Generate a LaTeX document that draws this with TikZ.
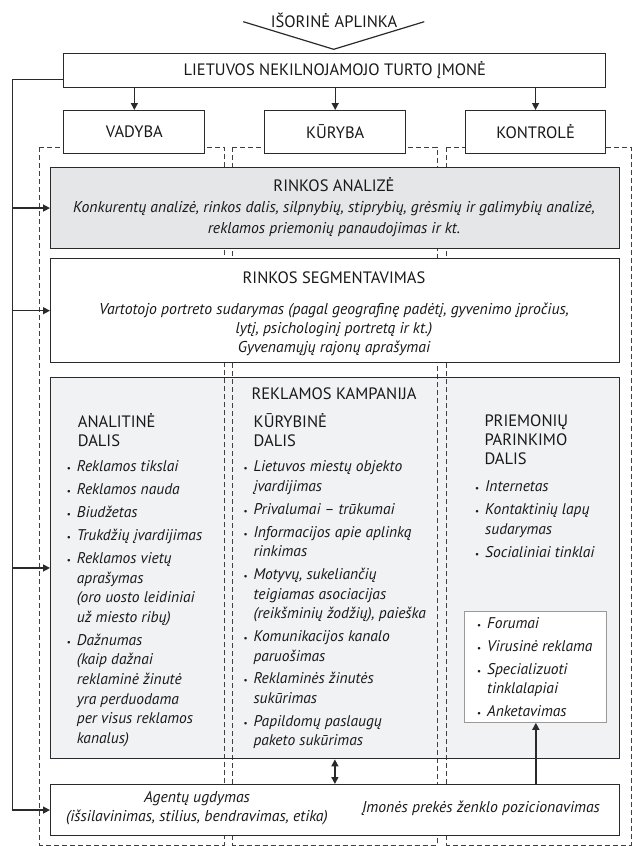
\documentclass[tikz,border=0pt]{standalone}
\usepackage{fontspec}
\setmainfont{PT Sans}
\usetikzlibrary{arrows.meta,calc}
\definecolor{lineclr}{HTML}{2A2A2A}
\definecolor{dashclr}{HTML}{404040}
\definecolor{rafill}{HTML}{E5E6E7}
\definecolor{kamfill}{HTML}{F1F2F3}
\definecolor{innclr}{HTML}{9A9A9A}
\newcommand{\bul}{\makebox[10pt][l]{\fontsize{9}{9}\selectfont\upshape\textbullet}}
\newcommand{\ind}{\hspace*{10pt}}
\begin{document}
\begin{tikzpicture}[x=1pt,y=-1pt,
  box/.style={draw=lineclr, line width=1.1pt, fill=white, inner sep=0pt, anchor=north west},
  dcol/.style={draw=dashclr, line width=0.9pt, dash pattern=on 5pt off 3pt},
  arr/.style={line width=1.4pt, draw=lineclr, -{Triangle[length=7pt,width=7pt]}},
  plainline/.style={line width=1.4pt, draw=lineclr},
  captext/.style={font=\fontsize{16.5}{19}\selectfont, text=black!90, inner sep=0pt, align=center},
  ittext/.style={font=\fontsize{15.7}{21}\selectfont\itshape, text=black!90, inner sep=0pt, align=center},
  lst/.style={font=\fontsize{15.5}{19.6}\selectfont\itshape, text=black!90, align=left, anchor=north west, inner sep=0pt},
  headtext/.style={font=\fontsize{16.5}{19}\selectfont, text=black!90, align=left, anchor=north west, inner sep=0pt},
]
\useasboundingbox (0,0) rectangle (634,846);

% campaign fill below the dashed columns
\fill[kamfill] (50,376.5) rectangle (618.7,758.3);

% dashed columns
\draw[dcol] (39.3,147.3) rectangle (224,845);
\draw[dcol] (232.3,147.3) rectangle (437,845);
\draw[dcol] (446.3,147.3) rectangle (631,845);

% outer environment
\node[captext] (iso) at (334,20) {IŠORINĖ APLINKA};
\coordinate (chl) at (243.3,21.7);
\coordinate (chm) at (333.7,49.3);
\coordinate (chr) at (424.3,21.7);
\draw[line width=1.2pt, draw=lineclr] (chl) -- (chm) -- (chr);

% boxes
\node[box, minimum width=542pt, minimum height=34.6pt] (top) at (63.3,52.7) {};
\node[captext] at (top.center) {LIETUVOS NEKILNOJAMOJO TURTO ĮMONĖ};
\node[box, minimum width=141pt, minimum height=42.7pt] (vad) at (63.3,110) {};
\node[captext] at (vad.center) {VADYBA};
\node[box, minimum width=141.3pt, minimum height=42.7pt] (kur) at (264,110) {};
\node[captext] at (kur.center) {KŪRYBA};
\node[box, minimum width=140.6pt, minimum height=42.7pt] (kon) at (464.7,110) {};
\node[captext] at (kon.center) {KONTROLĖ};

\node[box, fill=rafill, minimum width=568.7pt, minimum height=81.6pt] (ra) at (50,166.7) {};
\node[captext] at (334,185) {RINKOS ANALIZĖ};
\node[ittext] at (334,218.8) {Konkurentų analizė, rinkos dalis, silpnybių, stiprybių, grėsmių ir galimybių analizė,\\reklamos priemonių panaudojimas ir kt.};

\node[box, minimum width=568.7pt, minimum height=103.7pt] (seg) at (50,258.3) {};
\node[captext] at (334,277.3) {RINKOS SEGMENTAVIMAS};
\node[ittext, font=\fontsize{15.7}{18.7}\selectfont\itshape] at (334,329.5) {Vartotojo portreto sudarymas (pagal geografinę padėtį, gyvenimo įpročius,\\lytį, psichologinį portretą ir kt.)\\Gyvenamųjų rajonų aprašymai};

\node[box, fill=none, minimum width=568.7pt, minimum height=381.8pt] (kam) at (50,376.5) {};
\node[captext] at (334,393.3) {REKLAMOS KAMPANIJA};

\node[headtext] at (77.7,412.9) {\strut ANALITINĖ\\DALIS};
\node[headtext] at (253.5,412.9) {\strut KŪRYBINĖ\\DALIS};
\node[headtext] at (484.3,412.9) {\strut PRIEMONIŲ\\PARINKIMO\\DALIS};

\node[lst] at (66.7,457.5) {\strut\bul Reklamos tikslai\\[3.4pt]
\bul Reklamos nauda\\[3.4pt]
\bul Biudžetas\\[3.4pt]
\bul Trukdžių įvardijimas\\[3.4pt]
\bul Reklamos vietų\\
\ind aprašymas\\
\ind (oro uosto leidiniai\\
\ind už miesto ribų)\\[3.4pt]
\bul Dažnumas\\
\ind (kaip dažnai\\
\ind reklaminė žinutė\\
\ind yra perduodama\\
\ind per visus reklamos\\
\ind kanalus)};

\node[lst] at (243.3,458) {\strut\bul Lietuvos miestų objekto\\
\ind įvardijimas\\[3.2pt]
\bul Privalumai – trūkumai\\[3.2pt]
\bul Informacijos apie aplinką\\
\ind rinkimas\\[3.2pt]
\bul Motyvų, sukeliančių\\
\ind teigiamas asociacijas\\
\ind (reikšminių žodžių), paieška\\[3.2pt]
\bul Komunikacijos kanalo\\
\ind paruošimas\\[3.2pt]
\bul Reklaminės žinutės\\
\ind sukūrimas\\[3.2pt]
\bul Papildomų paslaugų\\
\ind paketo sukūrimas};

\node[lst] at (475,478) {\strut\bul Internetas\\[3.2pt]
\bul Kontaktinių lapų\\
\ind sudarymas\\[3.2pt]
\bul Socialiniai tinklai};

\node[box, draw=innclr, minimum width=142pt, minimum height=111pt] (inn) at (464.3,610.7) {};
\node[lst] at (477,614.6) {\strut\bul Forumai\\[3.2pt]
\bul Virusinė reklama\\[3.2pt]
\bul Specializuoti\\
\ind tinklalapiai\\[3.2pt]
\bul Anketavimas};

\node[box, minimum width=568.7pt, minimum height=51pt] (bot) at (50,784) {};
\node[ittext, font=\fontsize{15.7}{19}\selectfont\itshape] at (197,807.8) {Agentų ugdymas\\(išsilavinimas, stilius, bendravimas, etika)};
\node[ittext] at (481,808.3) {Įmonės prekės ženklo pozicionavimas};

% connectors
\draw[arr] (vad.north |- top.south) -- (vad.north);
\draw[arr] (kur.north |- top.south) -- (kur.north);
\draw[arr] (kon.north |- top.south) -- (kon.north);

\coordinate (L) at (12.7,79.3);
\draw[plainline] (top.west |- L) -- (L);
\draw[arr] (L) |- (bot.west);
\draw[arr] (L |- ra.west) -- (ra.west);
\draw[arr] (L |- seg.west) -- (seg.west);
\draw[arr] (L |- kam.west) -- (kam.west);

\draw[line width=1.4pt, draw=lineclr, {Triangle[length=7pt,width=7pt]}-{Triangle[length=7pt,width=7pt]}] (kam.south) -- (bot.north);
\draw[arr] (inn.south |- bot.north) -- (inn.south);
\end{tikzpicture}
\end{document}
